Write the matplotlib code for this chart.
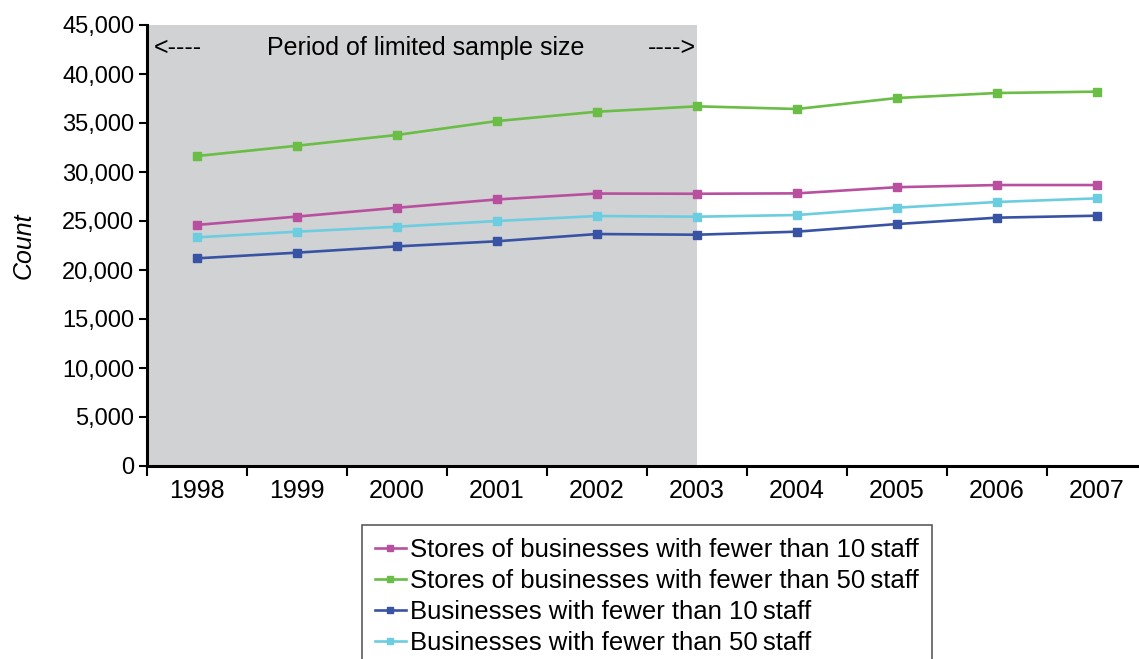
import matplotlib.pyplot as plt
from matplotlib.ticker import FuncFormatter, FixedLocator

years = ["1998", "1999", "2000", "2001", "2002", "2003", "2004", "2005", "2006", "2007"]
stores_lt10 = [24600, 25450, 26350, 27200, 27800, 27780, 27820, 28450, 28670, 28670]
stores_lt50 = [31630, 32680, 33780, 35200, 36150, 36700, 36430, 37550, 38060, 38200]
biz_lt10 = [21190, 21770, 22410, 22930, 23670, 23600, 23910, 24690, 25340, 25540]
biz_lt50 = [23330, 23910, 24420, 25000, 25510, 25440, 25610, 26360, 26940, 27310]

series = [
    ("Stores of businesses with fewer than 10\u2009staff", stores_lt10, "#b8509f"),
    ("Stores of businesses with fewer than 50\u2009staff", stores_lt50, "#6abd45"),
    ("Businesses with fewer than 10\u2009staff", biz_lt10, "#3953a4"),
    ("Businesses with fewer than 50\u2009staff", biz_lt50, "#6dcde0"),
]


def main():
    plt.rcParams.update({
        'font.family': ['Liberation Sans', 'DejaVu Sans'],
        'font.size': 18,
    })

    fig = plt.figure(figsize=(11.39, 6.59), dpi=100)
    ax = fig.add_axes([147 / 1139, 1 - 466 / 659, 1000 / 1139, 441 / 659])

    x = list(range(len(years)))
    # shaded period of limited sample size
    ax.axvspan(-0.5, 5, color="#d1d2d4", lw=0, zorder=0)

    for label, vals, col in series:
        ax.plot(x, vals, color=col, lw=1.9, marker="s", markersize=6, label=label, zorder=3)

    ax.set_xlim(-0.5, 9.5)
    ax.set_ylim(0, 45000)
    ax.set_yticks(range(0, 45001, 5000))
    ax.yaxis.set_major_formatter(FuncFormatter(lambda v, p: f"{int(v):,}"))
    ax.set_xticks(x)
    ax.set_xticklabels(years, fontsize=18)
    ax.xaxis.set_minor_locator(FixedLocator([i - 0.5 for i in range(len(years) + 1)]))
    ax.tick_params(axis="x", which="major", length=0, pad=9)
    ax.tick_params(axis="x", which="minor", length=7, width=1.5, direction="out")
    ax.tick_params(axis="y", length=6, width=1.5, direction="out", pad=3, labelsize=17)

    for side in ["top", "right"]:
        ax.spines[side].set_visible(False)
    for side in ["left", "bottom"]:
        ax.spines[side].set_linewidth(2.2)

    ax.set_ylabel("Count", style="italic", fontsize=18, labelpad=19)

    ax.text(-0.43, 42700, "<----", ha="left", va="center")
    ax.text(2.29, 42700, "Period of limited sample size", ha="center", va="center")
    ax.text(4.99, 42700, "---->", ha="right", va="center")

    leg = fig.legend(loc="upper left", bbox_to_anchor=(362 / 1139, 1 - 525 / 659),
                     fontsize=18.5, frameon=True, fancybox=False, edgecolor="#333333",
                     handlelength=1.2, handletextpad=0.18, labelspacing=0.27,
                     borderpad=0.5, borderaxespad=0, markerscale=0.7)
    leg.get_frame().set_linewidth(1.2)

    fig.savefig("out.png", dpi=100)
    plt.close(fig)


if __name__ == "__main__":
    main()
